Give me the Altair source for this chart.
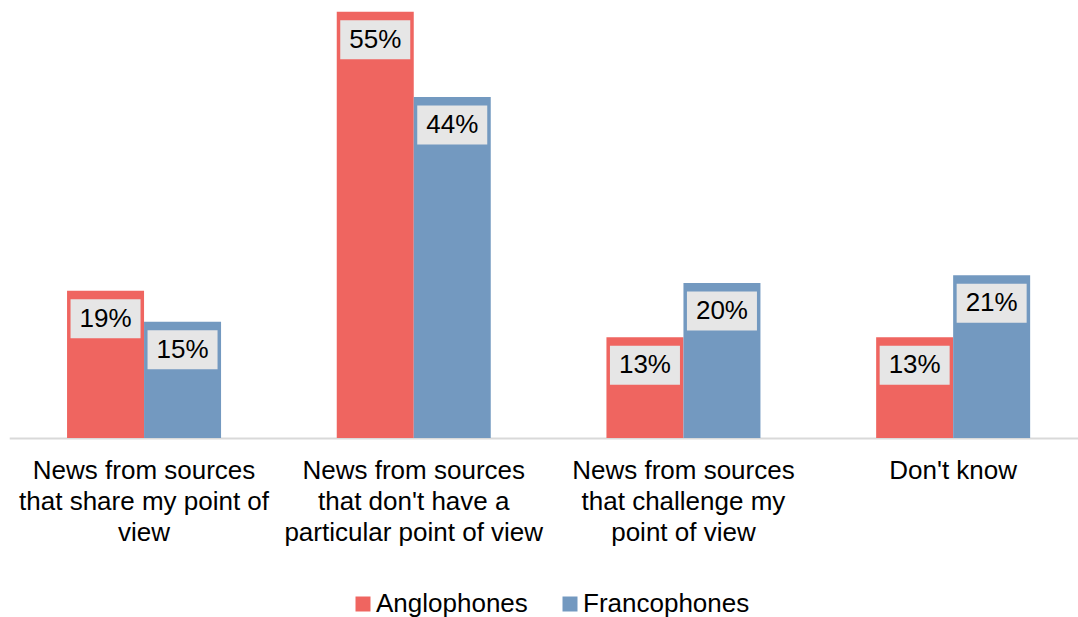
import altair as alt
import pandas as pd

categories = [
    "News from sources|that share my point of|view",
    "News from sources|that don't have a|particular point of view",
    "News from sources|that challenge my|point of view",
    "Don't know",
]
series = ["Anglophones", "Francophones"]
anglophones = [19, 55, 13, 13]
francophones = [15, 44, 20, 21]
colors = ["#EF6560", "#7399C0"]

rows = []
for c, a, f in zip(categories, anglophones, francophones):
    rows.append({"cat": c, "series": series[0], "value": a, "label": f"{a}%"})
    rows.append({"cat": c, "series": series[1], "value": f, "label": f"{f}%"})
df = pd.DataFrame(rows)

FONT = "Liberation Sans"
FS = 26

x = alt.X(
    "cat:N",
    sort=categories,
    scale=alt.Scale(range=[9.2, 1088], paddingInner=0.429, paddingOuter=0.2145),
    axis=alt.Axis(
        title=None,
        labelAngle=0,
        labelExpr="split(datum.label, '|')",
        ticks=False,
        domainColor="#D9D9D9",
        domainWidth=2,
        labelFont=FONT,
        labelFontSize=FS,
        labelColor="#000000",
        labelPadding=19,
        labelLineHeight=31,
        labelLimit=0,
        labelOverlap=False,
        labelFlush=False,
        labelBaseline="top",
    ),
)
xo = alt.XOffset("series:N", sort=series)
y = alt.Y("value:Q", scale=alt.Scale(domain=[0, 56]), axis=None)

base = alt.Chart(df).encode(x=x, xOffset=xo, y=y)

bars = base.mark_bar().encode(
    color=alt.Color(
        "series:N",
        sort=series,
        scale=alt.Scale(domain=series, range=colors),
        legend=alt.Legend(
            title=None,
            orient="none",
            direction="horizontal",
            legendX=350,
            legendY=587,
            symbolType="square",
            symbolSize=225,
            symbolStrokeWidth=0,
            labelFont=FONT,
            labelFontSize=FS,
            labelColor="#000000",
            labelOffset=0,
            labelLimit=0,
            columnPadding=29,
            symbolOpacity=1,
        ),
    )
)

box_shape = "M-1,-0.557L1,-0.557L1,0.557L-1,0.557Z"
boxes = base.mark_point(
    shape=box_shape, filled=True, size=4900, color="#E6E6E6", opacity=1, yOffset=28
)

texts = base.mark_text(
    font=FONT, fontSize=FS, color="#000000", baseline="middle", align="center", dy=28
).encode(text="label:N")

chart = (
    alt.layer(bars, boxes, texts)
    .properties(
        width=1078,
        height=434,
        background="white",
        autosize=alt.AutoSizeParams(type="none"),
        padding={"left": 0, "top": 4, "right": 0, "bottom": 179},
    )
    .configure_view(strokeWidth=0, stroke=None)
)

chart.save("out.html", embed_options={"renderer": "svg", "actions": False})
